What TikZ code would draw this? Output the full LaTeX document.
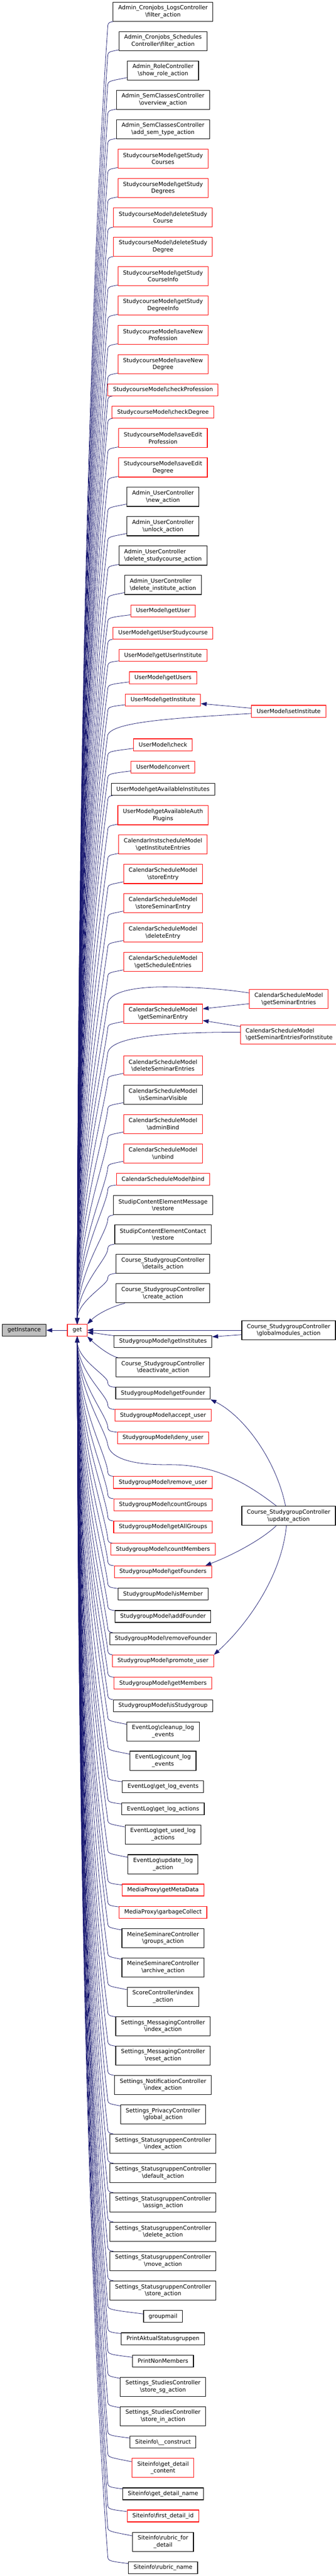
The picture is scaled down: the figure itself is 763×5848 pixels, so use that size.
\documentclass[tikz,border=0pt]{standalone}
\usepackage{fontspec}
\setmainfont{DejaVu Sans}
\usetikzlibrary{arrows.meta,calc}
\definecolor{edgeblue}{HTML}{191970}
\definecolor{nodegray}{HTML}{BFBFBF}
\definecolor{nodered}{HTML}{FF0000}
\newcommand\nf{\fontsize{9.66pt}{12pt}\selectfont}
\newcommand\bksl{\textbackslash{}}
\newcommand\upedge[3]{%
 \pgfmathsetmacro\uwy{#2+#3/2+12}%
 \pgfmathsetmacro\ucy{#2+0.55*#3}%
 \pgfmathsetmacro\ucyy{\uwy-10}%
 \pgfmathsetmacro\uD{3007-\uwy}%
 \pgfmathsetmacro\upa{\uwy+0.143*\uD}%
 \pgfmathsetmacro\upb{3007-0.51*\uD}%
 \pgfmathsetmacro\udx{245-30*min(1,\uD/1500)}%
 \draw[edge] (#1) .. controls (250,\ucy) and (245,\ucyy) .. (245,\uwy) .. controls (\udx,\upa) and (177,\upb) .. (get.north);}
\newcommand\downedge[3]{%
 \pgfmathsetmacro\uwy{#2-#3/2-12}%
 \pgfmathsetmacro\ucy{#2-0.55*#3}%
 \pgfmathsetmacro\ucyy{\uwy+10}%
 \pgfmathsetmacro\uD{\uwy-3034}%
 \pgfmathsetmacro\upa{\uwy-0.143*\uD}%
 \pgfmathsetmacro\upb{3034+0.51*\uD}%
 \pgfmathsetmacro\udx{245-30*min(1,\uD/1500)}%
 \draw[edge] (#1) .. controls (250,\ucy) and (245,\ucyy) .. (245,\uwy) .. controls (\udx,\upa) and (177,\upb) .. (get.south);}
\tikzset{
 fn/.style={draw=black, line width=1pt, fill=white, font=\nf, align=center, inner xsep=8.8pt, inner ysep=0pt, minimum height=20.25pt},
 two/.style={minimum height=32.6pt},
 rd/.style={draw=nodered},
 edge/.style={draw=edgeblue, line width=0.7pt, -{Triangle[length=10pt,width=7pt]}}
}
\begin{document}
\begin{tikzpicture}[x=0.75pt,y=-0.75pt]
\fill[white] (0,0) rectangle (763,5848);
\useasboundingbox (0,0) rectangle (763,5848);
% left part
\node[fn,fill=nodegray] (gi) at (55,3020) {getInstance};
\node[fn,rd] (get) at (175.5,3020) {get};
% column
\node[fn,two] (n1) at (370.5,26.5) {Admin\_Cronjobs\_LogsController\\\bksl filter\_action};
\node[fn,two] (n2) at (370.5,93.3) {Admin\_Cronjobs\_Schedules\\Controller\bksl filter\_action};
\node[fn,two] (n3) at (370.5,160) {Admin\_RoleController\\\bksl show\_role\_action};
\node[fn,two] (n4) at (370.5,226.7) {Admin\_SemClassesController\\\bksl overview\_action};
\node[fn,two] (n5) at (370.5,293.3) {Admin\_SemClassesController\\\bksl add\_sem\_type\_action};
\node[fn,two,rd] (n6) at (370.5,360) {StudycourseModel\bksl getStudy\\Courses};
\node[fn,two,rd] (n7) at (370.5,426.7) {StudycourseModel\bksl getStudy\\Degrees};
\node[fn,two,rd] (n8) at (370.5,493.3) {StudycourseModel\bksl deleteStudy\\Course};
\node[fn,two,rd] (n9) at (370.5,560) {StudycourseModel\bksl deleteStudy\\Degree};
\node[fn,two,rd] (n10) at (370.5,626.7) {StudycourseModel\bksl getStudy\\CourseInfo};
\node[fn,two,rd] (n11) at (370.5,693.3) {StudycourseModel\bksl getStudy\\DegreeInfo};
\node[fn,two,rd] (n12) at (370.5,760) {StudycourseModel\bksl saveNew\\Profession};
\node[fn,two,rd] (n13) at (370.5,826.7) {StudycourseModel\bksl saveNew\\Degree};
\node[fn,rd] (n14) at (370.5,885) {StudycourseModel\bksl checkProfession};
\node[fn,rd] (n15) at (370.5,935.8) {StudycourseModel\bksl checkDegree};
\node[fn,two,rd] (n16) at (370.5,994.5) {StudycourseModel\bksl saveEdit\\Profession};
\node[fn,two,rd] (n17) at (370.5,1061.3) {StudycourseModel\bksl saveEdit\\Degree};
\node[fn,two] (n18) at (370.5,1128) {Admin\_UserController\\\bksl new\_action};
\node[fn,two] (n19) at (370.5,1194.7) {Admin\_UserController\\\bksl unlock\_action};
\node[fn,two,align=left] (n20) at (370.5,1261.3) {Admin\_UserController\\\bksl delete\_studycourse\_action};
\node[fn,two,align=left] (n21) at (370.5,1328) {Admin\_UserController\\\bksl delete\_institute\_action};
\node[fn,rd] (n22) at (370.5,1386.7) {UserModel\bksl getUser};
\node[fn,rd] (n23) at (370.5,1437.3) {UserModel\bksl getUserStudycourse};
\node[fn,rd] (n24) at (370.5,1488) {UserModel\bksl getUserInstitute};
\node[fn,rd] (n25) at (370.5,1538.7) {UserModel\bksl getUsers};
\node[fn,rd] (n26) at (370.5,1589.3) {UserModel\bksl getInstitute};
\node[fn,rd] (n27) at (370.5,1690.7) {UserModel\bksl check};
\node[fn,rd] (n28) at (370.5,1741.3) {UserModel\bksl convert};
\node[fn] (n29) at (370.5,1792) {UserModel\bksl getAvailableInstitutes};
\node[fn,two,rd] (n30) at (370.5,1850.7) {UserModel\bksl getAvailableAuth\\Plugins};
\node[fn,two,rd] (n31) at (370.5,1917.3) {CalendarInstscheduleModel\\\bksl getInstituteEntries};
\node[fn,two,rd] (n32) at (370.5,1984.1) {CalendarScheduleModel\\\bksl storeEntry};
\node[fn,two,rd] (n33) at (370.5,2050.6) {CalendarScheduleModel\\\bksl storeSeminarEntry};
\node[fn,two,rd] (n34) at (370.5,2117.2) {CalendarScheduleModel\\\bksl deleteEntry};
\node[fn,two,rd] (n35) at (370.5,2184) {CalendarScheduleModel\\\bksl getScheduleEntries};
\node[fn,two,rd] (n36) at (370.5,2301.2) {CalendarScheduleModel\\\bksl getSeminarEntry};
\node[fn,two,rd] (n37) at (370.5,2418.9) {CalendarScheduleModel\\\bksl deleteSeminarEntries};
\node[fn,two] (n38) at (370.5,2485.3) {CalendarScheduleModel\\\bksl isSeminarVisible};
\node[fn,two,rd] (n39) at (370.5,2552) {CalendarScheduleModel\\\bksl adminBind};
\node[fn,two,rd] (n40) at (370.5,2618.5) {CalendarScheduleModel\\\bksl unbind};
\node[fn,rd] (n41) at (370.5,2677.1) {CalendarScheduleModel\bksl bind};
\node[fn,two] (n42) at (370.5,2736) {StudipContentElementMessage\\\bksl restore};
\node[fn,two] (n43) at (370.5,2802.6) {StudipContentElementContact\\\bksl restore};
\node[fn,two] (n44) at (370.5,2869.2) {Course\_StudygroupController\\\bksl details\_action};
\node[fn,two] (n45) at (370.5,2936) {Course\_StudygroupController\\\bksl create\_action};
\node[fn] (n46) at (370.5,3045.3) {StudygroupModel\bksl getInstitutes};
\node[fn,two] (n47) at (370.5,3104.2) {Course\_StudygroupController\\\bksl deactivate\_action};
\node[fn] (n48) at (370.5,3162.7) {StudygroupModel\bksl getFounder};
\node[fn,rd] (n49) at (370.5,3213.2) {StudygroupModel\bksl accept\_user};
\node[fn,rd] (n50) at (370.5,3264.2) {StudygroupModel\bksl deny\_user};
\node[fn,rd] (n51) at (370.5,3365.4) {StudygroupModel\bksl remove\_user};
\node[fn,rd] (n52) at (370.5,3416.2) {StudygroupModel\bksl countGroups};
\node[fn,rd] (n53) at (370.5,3466.6) {StudygroupModel\bksl getAllGroups};
\node[fn,rd] (n54) at (370.5,3517.3) {StudygroupModel\bksl countMembers};
\node[fn,rd] (n55) at (370.5,3568.2) {StudygroupModel\bksl getFounders};
\node[fn] (n56) at (370.5,3618.7) {StudygroupModel\bksl isMember};
\node[fn] (n57) at (370.5,3669.6) {StudygroupModel\bksl addFounder};
\node[fn] (n58) at (370.5,3720.2) {StudygroupModel\bksl removeFounder};
\node[fn,rd] (n59) at (370.5,3770.8) {StudygroupModel\bksl promote\_user};
\node[fn,rd] (n60) at (370.5,3821.3) {StudygroupModel\bksl getMembers};
\node[fn] (n61) at (370.5,3872.3) {StudygroupModel\bksl isStudygroup};
\node[fn,two] (n62) at (370.5,3930.8) {EventLog\bksl cleanup\_log\\\_events};
\node[fn,two] (n63) at (370.5,3997.2) {EventLog\bksl count\_log\\\_events};
\node[fn] (n64) at (370.5,4056.2) {EventLog\bksl get\_log\_events};
\node[fn] (n65) at (370.5,4106.8) {EventLog\bksl get\_log\_actions};
\node[fn,two] (n66) at (370.5,4164.7) {EventLog\bksl get\_used\_log\\\_actions};
\node[fn,two] (n67) at (370.5,4232.2) {EventLog\bksl update\_log\\\_action};
\node[fn,rd] (n68) at (370.5,4290.6) {MediaProxy\bksl getMetaData};
\node[fn,rd] (n69) at (370.5,4341.2) {MediaProxy\bksl garbageCollect};
\node[fn,two] (n70) at (370.5,4400) {MeineSeminareController\\\bksl groups\_action};
\node[fn,two] (n71) at (370.5,4466.5) {MeineSeminareController\\\bksl archive\_action};
\node[fn,two] (n72) at (370.5,4533.1) {ScoreController\bksl index\\\_action};
\node[fn,two] (n73) at (370.5,4600) {Settings\_MessagingController\\\bksl index\_action};
\node[fn,two] (n74) at (370.5,4666.5) {Settings\_MessagingController\\\bksl reset\_action};
\node[fn,two] (n75) at (370.5,4733.4) {Settings\_NotificationController\\\bksl index\_action};
\node[fn,two] (n76) at (370.5,4800) {Settings\_PrivacyController\\\bksl global\_action};
\node[fn,two] (n77) at (370.5,4866.9) {Settings\_StatusgruppenController\\\bksl index\_action};
\node[fn,two] (n78) at (370.5,4933.2) {Settings\_StatusgruppenController\\\bksl default\_action};
\node[fn,two] (n79) at (370.5,5000) {Settings\_StatusgruppenController\\\bksl assign\_action};
\node[fn,two] (n80) at (370.5,5066.7) {Settings\_StatusgruppenController\\\bksl delete\_action};
\node[fn,two] (n81) at (370.5,5133.2) {Settings\_StatusgruppenController\\\bksl move\_action};
\node[fn,two] (n82) at (370.5,5200) {Settings\_StatusgruppenController\\\bksl store\_action};
\node[fn] (n83) at (370.5,5258.5) {groupmail};
\node[fn] (n84) at (370.5,5309.4) {PrintAktualStatusgruppen};
\node[fn] (n85) at (370.5,5359.9) {PrintNonMembers};
\node[fn,two] (n86) at (370.5,5418.6) {Settings\_StudiesController\\\bksl store\_sg\_action};
\node[fn,two] (n87) at (370.5,5485.2) {Settings\_StudiesController\\\bksl store\_in\_action};
\node[fn] (n88) at (370.5,5544) {Siteinfo\bksl \_\_construct};
\node[fn,two,rd] (n89) at (370.5,5602.6) {Siteinfo\bksl get\_detail\\\_content};
\node[fn] (n90) at (370.5,5661.4) {Siteinfo\bksl get\_detail\_name};
\node[fn,rd] (n91) at (370.5,5711.7) {Siteinfo\bksl first\_detail\_id};
\node[fn,two] (n92) at (370.5,5770.6) {Siteinfo\bksl rubric\_for\\\_detail};
\node[fn] (n93) at (370.5,5829.3) {Siteinfo\bksl rubric\_name};
% right column
\node[fn,rd,anchor=west] (r1) at (571,1614.7) {UserModel\bksl setInstitute};
\node[fn,two,rd,anchor=west] (r2) at (566,2268) {CalendarScheduleModel\\\bksl getSeminarEntries};
\node[fn,two,rd,anchor=west,align=left] (r3) at (546,2348.3) {CalendarScheduleModel\\\bksl getSeminarEntriesForInstitute};
\node[fn,two,anchor=west] (r4) at (549,3020) {Course\_StudygroupController\\\bksl globalmodules\_action};
\node[fn,two,anchor=west] (r5) at (549,3441.3) {Course\_StudygroupController\\\bksl update\_action};
% edges to get from above
\foreach \n/\y/\h in {n1/26.5/43.5,n2/93.3/43.5,n3/160/43.5,n4/226.7/43.5,n5/293.3/43.5,n6/360/43.5,n7/426.7/43.5,n8/493.3/43.5,n9/560/43.5,n10/626.7/43.5,n11/693.3/43.5,n12/760/43.5,n13/826.7/43.5,n14/885/27,n15/935.8/27,n16/994.5/43.5,n17/1061.3/43.5,n18/1128/43.5,n19/1194.7/43.5,n20/1261.3/43.5,n21/1328/43.5,n22/1386.7/27,n23/1437.3/27,n24/1488/27,n25/1538.7/27,n26/1589.3/27,n27/1690.7/27,n28/1741.3/27,n29/1792/27,n30/1850.7/43.5,n31/1917.3/43.5,n32/1984.1/43.5,n33/2050.6/43.5,n34/2117.2/43.5,n35/2184/43.5,n36/2301.2/43.5,n37/2418.9/43.5,n38/2485.3/43.5,n39/2552/43.5,n40/2618.5/43.5,n41/2677.1/27,n42/2736/43.5,n43/2802.6/43.5,n44/2869.2/43.5}{\upedge{\n}{\y}{\h}}
% edges to get from below
\foreach \n/\y/\h in {n48/3162.7/27,n49/3213.2/27,n50/3264.2/27,n51/3365.4/27,n52/3416.2/27,n53/3466.6/27,n54/3517.3/27,n55/3568.2/27,n56/3618.7/27,n57/3669.6/27,n58/3720.2/27,n59/3770.8/27,n60/3821.3/27,n61/3872.3/27,n62/3930.8/43.5,n63/3997.2/43.5,n64/4056.2/27,n65/4106.8/27,n66/4164.7/43.5,n67/4232.2/43.5,n68/4290.6/27,n69/4341.2/27,n70/4400/43.5,n71/4466.5/43.5,n72/4533.1/43.5,n73/4600/43.5,n74/4666.5/43.5,n75/4733.4/43.5,n76/4800/43.5,n77/4866.9/43.5,n78/4933.2/43.5,n79/5000/43.5,n80/5066.7/43.5,n81/5133.2/43.5,n82/5200/43.5,n83/5258.5/27,n84/5309.4/27,n85/5359.9/27,n86/5418.6/43.5,n87/5485.2/43.5,n88/5544/27,n89/5602.6/43.5,n90/5661.4/27,n91/5711.7/27,n92/5770.6/43.5,n93/5829.3/27}{\downedge{\n}{\y}{\h}}
% special near edges
\draw[edge] (n45) .. controls (255,2966) and (222,2982) .. (get.north east);
\draw[edge] (n47) .. controls (250,3078) and (220,3055) .. (get.south east);
\draw[edge] (n46) .. controls (240,3030) and (215,3026) .. ($(get.east)+(0,5)$);
\draw[edge] (get) -- (gi);
% right column edges
\draw[edge] ($(r1.west)+(0,-7)$) -- ($(n26.east)+(0,8)$);
\draw[edge] ($(r1.west)+(0,5)$) .. controls (400,1630) and (258,1638) .. (245,1668) .. controls (218,1859) and (177,2324) .. (get.north);
\draw[edge] ($(r2.west)+(0,10.6)$) -- ($(n36.east)+(0,-11)$);
\draw[edge] ($(r2.west)+(0,-14)$) .. controls (500,2244) and (430,2240.5) .. (374,2240.5) .. controls (310,2240.5) and (250,2250) .. (245,2278) .. controls (230.5,2382) and (177,2635) .. (get.north);
\draw[edge] ($(r3.west)+(0,-18)$) -- ($(n36.east)+(0,15.5)$);
\draw[edge] ($(r3.west)+(0,-5)$) .. controls (400,2343) and (252,2350) .. (245,2390) .. controls (232.7,2478) and (177,2692) .. (get.north);
\draw[edge] (r4) -- (get);
\draw[edge] ($(r4.west)+(0,10)$) -- ($(n46.east)+(0,-10.6)$);
\draw[edge] ($(r5.north west)+(100,0)$) .. controls (628,3315) and (555,3215) .. (n48.south east);
\draw[edge] ($(r5.south west)+(79,0)$) .. controls (595,3495) and (530,3530) .. ($(n55.north east)+(-15,0)$);
\draw[edge] ($(r5.south west)+(102,0)$) .. controls (640,3580) and (560,3690) .. (n59.north east);
\draw[edge] ($(r5.north west)+(79.5,0)$) .. controls (540,3350) and (470,3324) .. (380,3325) .. controls (300,3326) and (250,3310) .. (245,3280) .. controls (240,3245) and (177,3159) .. (get.south);
\end{tikzpicture}
\end{document}
